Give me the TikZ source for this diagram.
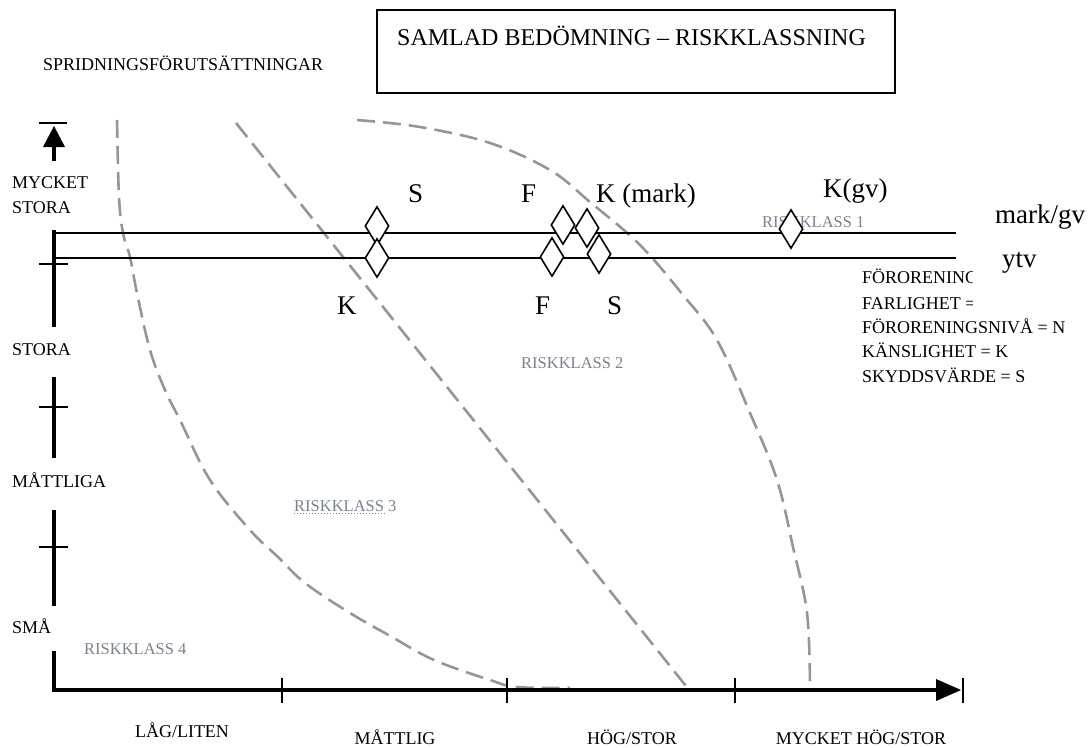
\documentclass[tikz,border=0pt]{standalone}
\usepackage{fontspec}
\setmainfont{Liberation Serif}
\usetikzlibrary{shapes.geometric}
\definecolor{curvegray}{RGB}{150,150,150}
\definecolor{classgray}{RGB}{122,130,145}

\tikzset{
  fs/.style={font=\fontsize{#1}{#1}\selectfont},
  lbl/.style={inner sep=0pt, fs=18, anchor=base west},
  biglbl/.style={inner sep=0pt, fs=27, anchor=base west},
  classlbl/.style={inner sep=0pt, fs=16.5, text=classgray, anchor=base west},
  border/.style={dash pattern=on 18pt off 8pt, line width=2.6pt, draw=curvegray},
  gem/.style={shape=diamond, draw, fill=white, line width=1.6pt,
              minimum width=24pt, minimum height=39pt, inner sep=0pt},
  level/.style={line width=1.7pt},
  axis/.style={line width=3.5pt},
  tickmark/.style={line width=2pt},
}

\begin{document}
\begin{tikzpicture}[x=1pt, y=-1pt]
\useasboundingbox (0,0) rectangle (1092,747);

% class borders
\draw[border] plot[smooth, tension=0.6] coordinates {(117,120) (119,197) (123,233) (130,257) (137,293) (150,350) (165,390) (180,420) (210,480) (250,530) (278,557) (305,583) (350,613) (392,637) (434,660) (490,680) (517,687) (570,688)};
\draw[border] (236,123) -- (686,686);
\draw[border] plot[smooth, tension=0.6] coordinates {(357,120) (420,127) (490,143) (550,170) (590,202) (640,245) (683,295) (717,340) (750,413) (777,480) (793,547) (807,613) (810,687)};

% risk class labels
\node[classlbl] (rk1) at (762,227) {RISKKLASS 1};
\node[classlbl] (rk2) at (521,368) {RISKKLASS 2};
\node[classlbl] (rk3) at (294,511) {RISKKLASS 3};
\node[classlbl] (rk4) at (84,654) {RISKKLASS 4};
\draw[red!70, line width=0.8pt, dash pattern=on 1pt off 2pt] (rk3.south west) ++(0,2) -- ++(92,0);

% title box
\draw[line width=1.5pt] (377,10) rectangle (895,93);
\node[inner sep=0pt, fs=24, anchor=base west] (title) at (397,45) {SAMLAD BEDÖMNING – RISKKLASSNING};
\node[lbl] (spread) at (43,70) {SPRIDNINGSFÖRUTSÄTTNINGAR};

% vertical axis
\coordinate (ytop) at (54,126);
\draw[line width=2pt] (39,123) -- (67,123);
\fill (ytop) -- (43,147) -- (65,147) -- cycle;
\draw[axis] (54,146) -- (54,161);
\draw[axis] (54,230) -- (54,327);
\draw[axis] (54,377) -- (54,458);
\draw[axis] (54,510) -- (54,606);
\draw[axis] (54,651) -- (54,690);
\draw[line width=2.7pt] (39,264) -- (68,264);
\draw[line width=2.7pt] (39,407) -- (68,407);
\draw[line width=2.7pt] (39,547) -- (68,547);

\node[lbl] (ymyc) at (12,188) {MYCKET};
\node[lbl] (ymyc2) at (12,213) {STORA};
\node[lbl] (ystora) at (12,355) {STORA};
\node[lbl] (ymatt) at (12,487) {MÅTTLIGA};
\node[lbl] (ysma) at (12,633) {SMÅ};

% horizontal axis
\coordinate (xend) at (961,690);
\draw[axis] (52,690) -- (938,690);
\fill (xend) -- (936,679) -- (936,701) -- cycle;
\draw[tickmark] (963,678) -- (963,703);
\draw[tickmark] (282,678) -- (282,703);
\draw[tickmark] (507,678) -- (507,703);
\draw[tickmark] (735,678) -- (735,703);

\node[lbl, anchor=base] (xlag) at (182,737) {LÅG/LITEN};
\node[lbl, anchor=base] (xmatt) at (395,744) {MÅTTLIG};
\node[lbl, anchor=base] (xhog) at (632,744) {HÖG/STOR};
\node[lbl, anchor=base] (xmyc) at (861,744) {MYCKET HÖG/STOR};

% medium lines
\coordinate (gvL) at (56,233);
\coordinate (gvR) at (956,233);
\coordinate (ytL) at (56,258);
\coordinate (ytR) at (956,258);
\draw[level] (gvL) -- (gvR);
\draw[level] (ytL) -- (ytR);

% assessment markers
\node[gem] (dS1) at (377,226) {};
\node[gem] (dK1) at (377,258) {};
\node[gem] (dF1) at (563,225) {};
\node[gem] (dKm) at (587,228) {};
\node[gem] (dF2) at (552,257) {};
\node[gem] (dS2) at (599,254) {};
\node[gem] (dKg) at (791,229) {};

\node[biglbl] (tS) at (408,202) {S};
\node[biglbl] (tF) at (521,202) {F};
\node[biglbl] (tKm) at (596,202) {K (mark)};
\node[biglbl] (tKg) at (823,197) {K(gv)};
\node[biglbl] (tmg) at (995,223) {mark/gv};
\node[biglbl] (tytv) at (1002,267) {ytv};
\node[biglbl] (bK) at (337,314) {K};
\node[biglbl] (bF) at (535,314) {F};
\node[biglbl] (bS) at (607,314) {S};

% legend
\begin{scope}
  \clip (850,262) rectangle (972,316);
  \node[lbl] (lg1) at (862,283) {FÖRORENINGENS};
  \node[lbl] (lg2) at (862,309) {FARLIGHET = F};
\end{scope}
\node[lbl] (lg3) at (862,333) {FÖRORENINGSNIVÅ = N};
\node[lbl] (lg4) at (862,357) {KÄNSLIGHET = K};
\node[lbl] (lg5) at (862,382) {SKYDDSVÄRDE = S};
\end{tikzpicture}
\end{document}
